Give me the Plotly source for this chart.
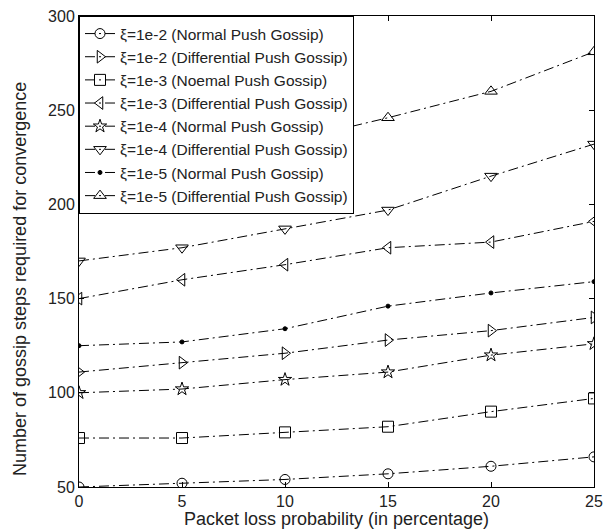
import plotly.graph_objects as go

x = [0, 5, 10, 15, 20, 25]
names = [
    "ξ=1e-2 (Normal Push Gossip)",
    "ξ=1e-2 (Differential Push Gossip)",
    "ξ=1e-3 (Noemal Push Gossip)",
    "ξ=1e-3 (Differential Push Gossip)",
    "ξ=1e-4 (Normal Push Gossip)",
    "ξ=1e-4 (Differential Push Gossip)",
    "ξ=1e-5 (Normal Push Gossip)",
    "ξ=1e-5 (Differential Push Gossip)",
]
n2_normal = [50, 52, 54, 57, 61, 66]
n2_diff = [111, 116, 121, 128, 133, 140]
n3_normal = [76, 76, 79, 82, 90, 97]
n3_diff = [150, 160, 168, 177, 180, 191]
n4_normal = [100, 102, 107, 111, 120, 126]
n4_diff = [170, 177, 187, 197, 215, 232]
n5_normal = [125, 127, 134, 146, 153, 159]
n5_diff = [209, 220, 233, 246, 260, 281]
series = [n2_normal, n2_diff, n3_normal, n3_diff, n4_normal, n4_diff, n5_normal, n5_diff]
symbols = ["circle-open", "triangle-right-open", "square-open", "triangle-left-open",
           "star-open", "triangle-down-open", "circle", "triangle-up-open"]
sizes = [10, 11, 11, 11, 10, 11, 4, 11]
x_title = "Packet loss probability (in percentage)"
y_title = "Number of gossip steps required for convergence"

FONT = "Liberation Sans, Arial"
fig = go.Figure()
for i, (nm, ys, sym, sz) in enumerate(zip(names, series, symbols, sizes)):
    fig.add_trace(go.Scatter(
        x=x, y=ys, name=nm, mode="lines+markers",
        line=dict(color="black", width=1, dash="10px,4px,2px,4px"),
        marker=dict(symbol=sym, size=sz, color="black", line=dict(color="black", width=1)),
        legendgroup=str(i),
    ))

axis_common = dict(showline=True, linecolor="black", linewidth=1, mirror="ticks",
                   ticks="inside", ticklen=5, tickcolor="black", showgrid=False,
                   zeroline=False, automargin=False,
                   tickfont=dict(family=FONT, size=16, color="#222"))
fig.update_layout(
    width=605, height=529,
    margin=dict(l=79, r=11, t=16, b=42),
    plot_bgcolor="white", paper_bgcolor="white",
    font=dict(family=FONT, size=16, color="#222"),
    xaxis=dict(range=[0, 25], tickvals=[0, 5, 10, 15, 20, 25],
               title=dict(text=x_title, standoff=0, font=dict(size=18)), **axis_common),
    yaxis=dict(range=[50, 300], tickvals=[50, 100, 150, 200, 250, 300], **axis_common),
    legend=dict(x=0, y=1, xanchor="left", yanchor="top", bgcolor="white",
                bordercolor="black", borderwidth=1, tracegroupgap=0,
                traceorder="grouped", font=dict(family=FONT, size=15.5, color="#222")),
    annotations=[dict(text=y_title, textangle=-90, xref="paper", yref="paper",
                      x=-0.1146, y=0.4416, xanchor="center", yanchor="middle",
                      showarrow=False, font=dict(family=FONT, size=18, color="#222"))],
)
fig.write_html("out.html", config={"displayModeBar": False},
               post_script="document.body.style.margin='0px';")
